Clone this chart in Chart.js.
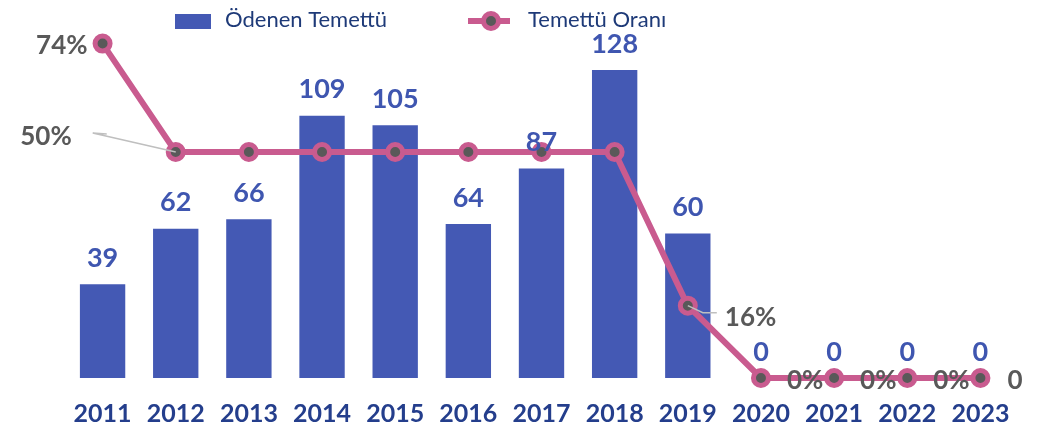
<!DOCTYPE html>
<html>
<head>
<meta charset="utf-8">
<script src="https://cdn.jsdelivr.net/npm/chart.js@4.4.0/dist/chart.umd.min.js"></script>
<style>
html,body{margin:0;padding:0;background:#fff}
</style>
</head>
<body>
<canvas id="chart" width="1039" height="428"></canvas>
<script>
// veriler
var years=['2011','2012','2013','2014','2015','2016','2017','2018','2019','2020','2021','2022','2023'];
var odenenTemettu=[39,62,66,109,105,64,87,128,60,0,0,0,0];
var temettuOrani=[74,50,50,50,50,50,50,50,16,0,0,0,0];
var oranLabels=['74%','50%','','','','','','','16%','0%','0%','0%','0'];

var BLUE='#4459B4';
var PINK='#C95B8F';
var GREY='#595959';

// oran etiketlerinin noktaya gore yerleri
var oranPlace=[
  {dx:-15,dy:2,align:'right'},
  {dx:-104,dy:-15,align:'right',leader:[[-83,-19],[-69,-18]]},
  null,null,null,null,null,null,
  {dx:37,dy:12,align:'left',leader:[[15,7],[29,7]]},
  {dx:26,dy:3,align:'left'},
  {dx:26,dy:3,align:'left'},
  {dx:26,dy:3,align:'left'},
  {dx:27,dy:3,align:'left'}
];

var labelPlugin={
  id:'labels',
  afterDatasetsDraw:function(chart){
    var ctx=chart.ctx;
    ctx.save();
    ctx.textBaseline='middle';
    // bar values
    ctx.font='bold 27px Lato';
    ctx.fillStyle='#3F56B0';
    ctx.textAlign='center';
    chart.getDatasetMeta(0).data.forEach(function(el,i){
      ctx.fillText(String(odenenTemettu[i]),el.x,el.y-26);
    });
    // line values
    ctx.font='bold 26px Lato';
    chart.getDatasetMeta(1).data.forEach(function(pt,i){
      var p=oranPlace[i];
      if(!p) return;
      if(p.leader){
        ctx.strokeStyle='#BFBFBF';
        ctx.lineWidth=1.5;
        ctx.beginPath();
        ctx.moveTo(pt.x,pt.y);
        p.leader.forEach(function(q){ctx.lineTo(pt.x+q[0],pt.y+q[1]);});
        ctx.stroke();
      }
      ctx.fillStyle=GREY;
      ctx.textAlign=p.align;
      ctx.fillText(oranLabels[i],pt.x+p.dx,pt.y+p.dy);
    });
    ctx.restore();
  },
  afterDraw:function(chart){
    var ctx=chart.ctx;
    ctx.save();
    ctx.fillStyle=BLUE;
    ctx.fillRect(175,14,36,15);
    ctx.font='22px Lato';
    ctx.fillStyle='#1E3A78';
    ctx.textBaseline='middle';
    ctx.textAlign='left';
    ctx.fillText('Ödenen Temettü',225,20);
    ctx.strokeStyle=PINK;
    ctx.lineWidth=6;
    ctx.beginPath();ctx.moveTo(468,21);ctx.lineTo(510,21);ctx.stroke();
    ctx.beginPath();ctx.arc(491,21,7.5,0,Math.PI*2);
    ctx.fillStyle=GREY;ctx.fill();
    ctx.lineWidth=5;ctx.stroke();
    ctx.fillStyle='#1E3A78';
    ctx.fillText('Temettü Oranı',528,20);
    ctx.restore();
  }
};

var chart=new Chart(document.getElementById('chart'),{
  type:'bar',
  data:{
    labels:years,
    datasets:[
      {
        label:'Ödenen Temettü',
        data:odenenTemettu,
        backgroundColor:BLUE,
        barPercentage:0.62,
        categoryPercentage:1,
        yAxisID:'y',
        order:1
      },
      {
        type:'line',
        label:'Temettü Oranı',
        data:temettuOrani,
        borderColor:PINK,
        borderWidth:6,
        pointRadius:7.5,
        pointBorderWidth:5,
        pointBackgroundColor:GREY,
        pointBorderColor:PINK,
        yAxisID:'y1',
        clip:false,
        order:0
      }
    ]
  },
  options:{
    responsive:false,
    devicePixelRatio:1,
    animation:false,
    layout:{padding:{left:66,right:22,top:30,bottom:0}},
    plugins:{legend:{display:false},tooltip:{enabled:false}},
    scales:{
      x:{
        grid:{display:false,drawTicks:false},
        border:{display:false},
        ticks:{
          color:'#243E8C',
          font:{family:'Lato',weight:'bold',size:25},
          autoSkip:false,maxRotation:0,padding:21
        },
        afterFit:function(s){s.height=50;}
      },
      y:{display:false,min:0,max:144.6},
      y1:{display:false,min:0,max:77}
    }
  },
  plugins:[labelPlugin]
});
</script>
</body>
</html>
